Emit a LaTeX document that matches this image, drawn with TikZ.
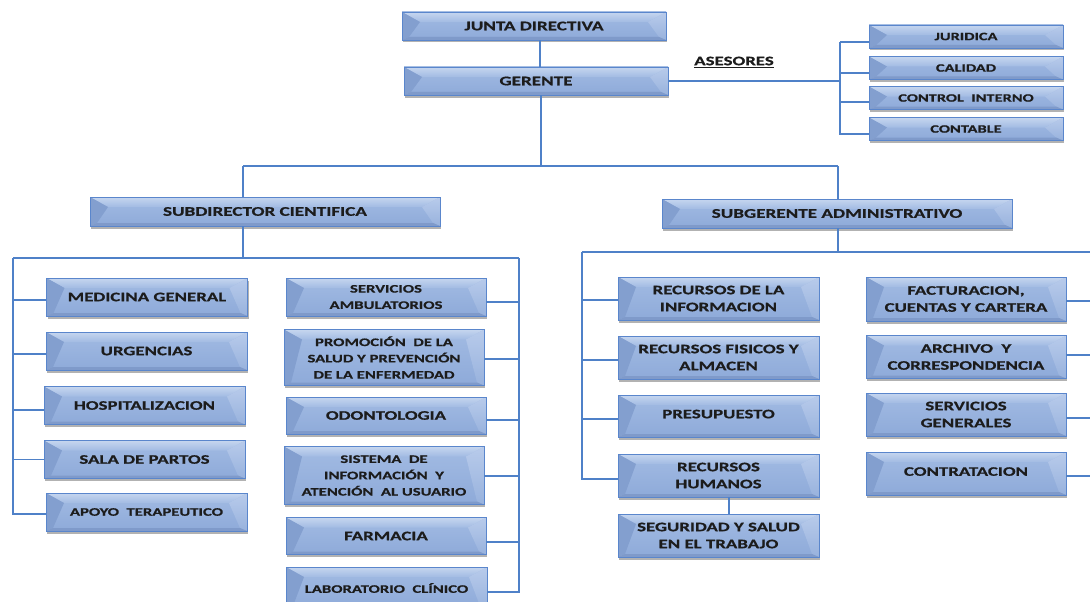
\documentclass[tikz,border=0pt]{standalone}
\usepackage{fontspec}
\newfontfamily\bx[FakeStretch=1.45,FakeBold=0.6]{Carlito}
\usetikzlibrary{shadows}
\definecolor{faceT}{HTML}{A2BBE3}
\definecolor{faceB}{HTML}{8EAAD9}
\definecolor{bevtop}{HTML}{C6D6EF}
\definecolor{bevleft}{HTML}{839FCF}
\definecolor{bevrightT}{HTML}{B8CBEB}
\definecolor{bevrightB}{HTML}{98B2DD}
\definecolor{bevbot}{HTML}{7F9ACA}
\definecolor{boxedge}{HTML}{5A86CC}
\definecolor{lineblue}{HTML}{4F81C8}
\definecolor{txt}{HTML}{1C1C1C}
\tikzset{
  wh/.style 2 args={minimum width=#1pt, minimum height=#2pt},
  conn/.style={draw=lineblue, line width=1.3pt},
  orgbox/.style={draw=boxedge, line width=0.9pt, fill=faceB, inner sep=0pt,
    align=center, text=txt, font=\bx\bfseries\fontsize{13}{17}\selectfont,
    drop shadow={shadow xshift=1pt, shadow yshift=-2.5pt, opacity=0.3, fill=black},
    path picture={
      \coordinate (pnw) at (path picture bounding box.north west);
      \coordinate (pne) at (path picture bounding box.north east);
      \coordinate (psw) at (path picture bounding box.south west);
      \coordinate (pse) at (path picture bounding box.south east);
      \coordinate (itl) at ([xshift=18pt,yshift=-10pt]pnw);
      \coordinate (itr) at ([xshift=-18pt,yshift=-10pt]pne);
      \coordinate (ibl) at ([xshift=7pt,yshift=3pt]psw);
      \coordinate (ibr) at ([xshift=-7pt,yshift=3pt]pse);
      \shade[top color=faceT, bottom color=faceB] (pnw) rectangle (pse);
      \shade[top color=bevtop, bottom color=faceT] (pnw) -- (pne) -- (itr) -- (itl) -- cycle;
      \fill[bevleft] (pnw) -- (itl) -- (ibl) -- (psw) -- cycle;
      \shade[top color=bevrightT, bottom color=bevrightB] (pne) -- (itr) -- (ibr) -- (pse) -- cycle;
      \fill[bevbot] (psw) -- (ibl) -- (ibr) -- (pse) -- cycle;
    }},
  big/.style={font=\bx\bfseries\fontsize{13.2}{16}\selectfont},
  small/.style={font=\bx\bfseries\fontsize{11.3}{13}\selectfont},
  mid/.style={font=\bx\bfseries\fontsize{11.5}{16.3}\selectfont},
}
\begin{document}
\begin{tikzpicture}[x=1pt,y=-1pt]
\useasboundingbox[fill=white] (0,0) rectangle (1090,602);

% top level
\node[orgbox,big,wh={264}{28}] (jd)  at (534,26)  {JUNTA DIRECTIVA};
\node[orgbox,big,wh={264}{28}] (ger) at (536,81)  {GERENTE};

% asesores
\node[font=\bx\bfseries\fontsize{13}{15}\selectfont, text=txt] (ases) at (734,62) {\underline{ASESORES}};
\node[orgbox,small,wh={194}{23}] (jur) at (966,36.5) {JURIDICA};
\node[orgbox,small,wh={194}{23}] (cal) at (966,68)   {CALIDAD};
\node[orgbox,small,wh={194}{23}] (ctl) at (966,98)   {CONTROL~ INTERNO};
\node[orgbox,small,wh={194}{23}] (cnt) at (966,129)  {CONTABLE};

% second level
\node[orgbox,big,wh={350}{29}] (sd) at (265,211.5) {SUBDIRECTOR CIENTIFICA};
\node[orgbox,big,wh={350}{29}] (sg) at (837,213.5) {SUBGERENTE ADMINISTRATIVO};

% left group, first column
\node[orgbox,wh={201}{38}] (med)  at (147,297)     {MEDICINA GENERAL};
\node[orgbox,wh={201}{38}] (urg)  at (146.5,351)   {URGENCIAS};
\node[orgbox,wh={201}{38}] (hosp) at (144.5,405.5) {HOSPITALIZACION};
\node[orgbox,wh={201}{38}] (sala) at (144.5,459.5) {SALA DE PARTOS};
\node[orgbox,mid,wh={201}{38}] (apo)  at (146.5,512) {APOYO~ TERAPEUTICO};

% left group, second column
\node[orgbox,mid,wh={200}{38}] (serv) at (386,297)   {SERVICIOS\\AMBULATORIOS};
\node[orgbox,mid,wh={200}{56}] (prom) at (384,357.5) {PROMOCIÓN~ DE LA\\SALUD Y PREVENCIÓN\\DE LA ENFERMEDAD};
\node[orgbox,wh={200}{37}] (odo)  at (386,415.5) {ODONTOLOGIA};
\node[orgbox,mid,wh={200}{58}] (sis)  at (384,475.5) {SISTEMA~ DE\\INFORMACIÓN~ Y\\ATENCIÓN~ AL USUARIO};
\node[orgbox,wh={200}{37}] (farm) at (386,536)   {FARMACIA};
\node[orgbox,mid,wh={201}{42}] (lab)  at (386.5,588) {LABORATORIO~ CLÍNICO};

% right group, first column
\node[orgbox,wh={201}{43}] (rinf) at (718.5,298.5) {RECURSOS DE LA\\INFORMACION};
\node[orgbox,wh={201}{43}] (rfis) at (718.5,357.5) {RECURSOS FISICOS Y\\ALMACEN};
\node[orgbox,wh={201}{42}] (pres) at (718.5,416)   {\raisebox{4pt}{PRESUPUESTO}};
\node[orgbox,wh={201}{43}] (rh)   at (718.5,475.5) {RECURSOS\\HUMANOS};
\node[orgbox,wh={201}{43}] (seg)  at (718.5,535.5) {SEGURIDAD Y SALUD\\EN EL TRABAJO};

% right group, second column
\node[orgbox,wh={200}{44}] (fac)  at (966,299)   {FACTURACION,\\CUENTAS Y CARTERA};
\node[orgbox,wh={200}{43}] (arch) at (966,357)   {ARCHIVO~ Y\\CORRESPONDENCIA};
\node[orgbox,wh={200}{43}] (sgen) at (966,414.5) {SERVICIOS\\GENERALES};
\node[orgbox,wh={200}{43}] (cont) at (966,473.5) {\raisebox{4pt}{CONTRATACION}};

% bar coordinates
\coordinate (topbar) at (541,166);
\coordinate (tbL) at (243,166);
\coordinate (tbR) at (838,166);
\coordinate (aT)  at (840,42);
\coordinate (lbL) at (13,258);
\coordinate (lbR) at (519,258);
\coordinate (rbL) at (582,252);
\coordinate (rbR) at (1100,252);

% connectors: top
\draw[conn] ([xshift=6pt]jd.south) -- ([xshift=6pt]jd.south |- ger.north);
\draw[conn] ([xshift=5pt]ger.south) -- (topbar);
\draw[conn] (tbL) -- (tbR);
\draw[conn] (tbL) -- (tbL |- sd.north);
\draw[conn] (tbR) -- (tbR |- sg.north);

% connectors: asesores
\draw[conn] (ger.east) -- (ger.east -| aT);
\draw[conn] (aT) |- ([yshift=-5.5pt]jur.west);
\draw[conn] (aT) |- ([yshift=-5pt]cal.west);
\draw[conn] (aT) |- ([yshift=-4pt]ctl.west);
\draw[conn] (aT) |- ([yshift=-5pt]cnt.west);

% connectors: left group
\draw[conn] (tbL |- sd.south) -- (tbL |- lbL);
\draw[conn] (lbL) -- (lbR);
\draw[conn] (lbL) |- ([yshift=-3pt]med.west);
\draw[conn] (lbL) |- ([yshift=-3pt]urg.west);
\draw[conn] (lbL) |- ([yshift=-4.5pt]hosp.west);
\draw[conn] (lbL) |- (sala.west);
\draw[conn] (lbL) |- ([yshift=-2pt]apo.west);
\draw[conn] (lbR) |- ([yshift=-5pt]serv.east);
\draw[conn] (lbR) |- ([yshift=-1.5pt]prom.east);
\draw[conn] (lbR) |- ([yshift=-4.5pt]odo.east);
\draw[conn] (lbR) |- ([yshift=-0.5pt]sis.east);
\draw[conn] (lbR) |- ([yshift=-6pt]farm.east);
\draw[conn] (lbR) |- ([yshift=-4pt]lab.east);

% connectors: right group
\draw[conn] (tbR |- sg.south) -- (tbR |- rbL);
\draw[conn] (rbL) -- (rbR);
\draw[conn] (rbL) |- ([yshift=-1.5pt]rinf.west);
\draw[conn] (rbL) |- ([yshift=-2.5pt]rfis.west);
\draw[conn] (rbL) |- ([yshift=-3pt]pres.west);
\draw[conn] (rbL) |- ([yshift=-3.5pt]rh.west);
\draw[conn] ([xshift=10.5pt]rh.south) -- ([xshift=10.5pt]rh.south |- seg.north);
\draw[conn] (rbR) |- ([yshift=-2pt]fac.east);
\draw[conn] (rbR) |- ([yshift=2pt]arch.east);
\draw[conn] (rbR) |- ([yshift=-3.5pt]sgen.east);
\draw[conn] (rbR) |- ([yshift=-2.5pt]cont.east);
\end{tikzpicture}
\end{document}
